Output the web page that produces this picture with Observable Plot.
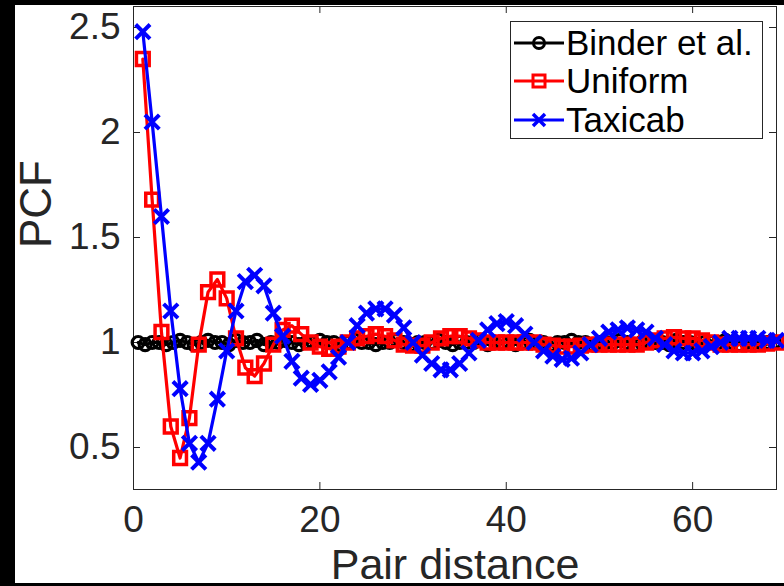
<!DOCTYPE html>
<html><head><meta charset="utf-8">
<script src="https://cdn.jsdelivr.net/npm/d3@7"></script>
<script src="https://cdn.jsdelivr.net/npm/@observablehq/plot@0.6"></script>
<style>
html,body{margin:0;padding:0;background:#000;}
#wrap{position:relative;width:784px;height:586px;background:#000;overflow:hidden;}
#fig{position:absolute;left:15px;top:5px;width:769px;height:578px;background:#fff;}
#legend{position:absolute;left:510px;top:21px;width:251px;height:116px;border:1px solid #262626;background:#fff;font-family:"Liberation Sans",Arial,sans-serif;font-size:35px;color:#000;}
.row{position:absolute;left:3px;height:38px;display:flex;align-items:center;white-space:nowrap;}
.row svg{margin-right:2px;}
</style></head><body>
<div id="wrap"><div id="fig"></div><div id="legend"></div></div>
<script>
// ---- data ----
const seriesNames = ["Binder et al.", "Uniform", "Taxicab"];
const seriesColors = ["#000000", "#ff0000", "#0000ff"];
const xTicks = [0, 20, 40, 60];
const yTicks = [0.5, 1, 1.5, 2, 2.5];

// Binder et al. samples (distance grid 0.5, 1.25, 2.0, ...)
const binderX = d3.range(0.5, 69, 0.75);
const binderY = [
1.00,0.99,1.00,1.00,0.99,1.00,1.01,1.00,0.99,1.00,
1.01,1.00,1.00,0.99,1.01,1.00,1.00,1.01,0.99,1.00,
1.00,1.01,1.00,0.99,1.00,1.00,1.01,1.00,1.00,0.99,
1.00,1.01,1.00,1.00,0.99,1.00,1.00,1.01,1.00,0.99,
1.00,1.00,1.00,1.01,1.00,0.99,1.00,1.00,1.00,1.01,
0.99,1.00,1.00,1.00,0.99,1.00,1.01,1.00,1.00,0.99,
1.00,1.00,1.01,1.00,1.00,0.99,1.00,1.00,1.00,1.01,
1.00,0.99,1.00,1.00,1.00,1.00,0.99,1.01,1.00,1.00,
0.99,1.00,1.00,1.00,1.01,1.00,0.99,1.00,1.00,1.00,
1.00,1.00];

// Uniform and Taxicab at integer distances 1..69
const distX = d3.range(1, 70);
const uniformY = [
2.35,1.68,1.05,0.60,0.45,0.64,0.99,1.24,1.30,1.21,
1.02,0.88,0.84,0.90,0.99,1.06,1.08,1.04,1.00,0.98,
0.97,0.98,1.00,1.02,1.03,1.04,1.03,1.01,0.99,0.985,
0.985,1.00,1.02,1.03,1.03,1.02,1.01,1.00,1.00,1.00,
1.00,1.00,1.00,0.99,0.985,0.98,0.98,0.985,0.99,0.99,
0.99,0.99,0.99,0.99,1.00,1.01,1.02,1.025,1.02,1.02,
1.01,1.00,0.99,0.99,0.99,0.99,0.99,0.995,1.00];
const taxicabY = [
2.48,2.05,1.60,1.15,0.78,0.52,0.43,0.52,0.73,0.96,
1.15,1.29,1.32,1.27,1.14,1.03,0.91,0.83,0.80,0.82,
0.86,0.93,1.00,1.08,1.14,1.16,1.16,1.13,1.07,1.00,
0.94,0.90,0.87,0.87,0.90,0.95,1.01,1.06,1.09,1.10,
1.08,1.04,1.00,0.96,0.935,0.92,0.925,0.95,0.99,1.02,
1.05,1.06,1.07,1.06,1.05,1.02,0.99,0.96,0.95,0.95,
0.96,0.98,1.00,1.02,1.02,1.02,1.02,1.01,1.01];

const binder = binderX.map((x, i) => ({x, y: binderY[i]})).filter(d => d.y !== undefined);
const uniform = distX.map((x, i) => ({x, y: uniformY[i]}));
const taxicab = distX.map((x, i) => ({x, y: taxicabY[i]}));

// ---- chart ----
const W = 769, H = 578, mL = 118, mR = 8, mT = 1, mB = 94;
const plotW = W - mL - mR, plotH = H - mT - mB;
const axisColor = "#262626";
const font = "Liberation Sans, Arial, Helvetica, sans-serif";

const chart = Plot.plot({
  width: W, height: H,
  marginLeft: mL, marginRight: mR, marginTop: mT, marginBottom: mB,
  x: {domain: [0, 69]},
  y: {domain: [0.3, 2.6]},
  style: {fontFamily: font, fontSize: "37px", color: axisColor, background: "white", overflow: "visible"},
  marks: [
    Plot.frame({stroke: axisColor, strokeWidth: 1}),
    // inward ticks on all four sides
    Plot.tickX(xTicks, {x: d => d, insetTop: plotH - 7, stroke: axisColor}),
    Plot.tickX(xTicks, {x: d => d, insetBottom: plotH - 7, stroke: axisColor}),
    Plot.tickY(yTicks, {y: d => d, insetRight: plotW - 7, stroke: axisColor}),
    Plot.tickY(yTicks, {y: d => d, insetLeft: plotW - 7, stroke: axisColor}),
    Plot.axisX({ticks: xTicks, tickSize: 0, tickPadding: 16, label: null, tickFormat: d => String(d), fill: axisColor}),
    Plot.axisY({ticks: yTicks, tickSize: 0, tickPadding: 13, label: null, tickFormat: d => String(d), fill: axisColor}),
    // series
    Plot.line(binder, {x: "x", y: "y", stroke: seriesColors[0], strokeWidth: 3}),
    Plot.dot(binder, {x: "x", y: "y", symbol: "circle", r: 6, stroke: seriesColors[0], fill: "none", strokeWidth: 3.2}),
    Plot.line(uniform, {x: "x", y: "y", stroke: seriesColors[1], strokeWidth: 3.2}),
    Plot.dot(uniform, {x: "x", y: "y", symbol: "square", r: 7.2, stroke: seriesColors[1], fill: "none", strokeWidth: 3.5}),
    Plot.line(taxicab, {x: "x", y: "y", stroke: seriesColors[2], strokeWidth: 3.2}),
    Plot.dot(taxicab, {x: "x", y: "y", symbol: "times", r: 6.6, stroke: seriesColors[2], strokeWidth: 4}),
    // axis titles
    Plot.text(["Pair distance"], {text: d => d, frameAnchor: "bottom", dy: 89, lineAnchor: "bottom", fontSize: 43, fill: axisColor}),
    Plot.text(["PCF"], {text: d => d, frameAnchor: "left", dx: -83, rotate: -90, lineAnchor: "bottom", fontSize: 44, fill: axisColor})
  ]
});
document.getElementById("fig").appendChild(chart);

// ---- legend ----
const legend = document.getElementById("legend");
const symbols = [
  '<circle cx="25" cy="19" r="5.5" fill="none" stroke="COLOR" stroke-width="3"/>',
  '<rect x="19" y="13" width="12" height="12" fill="none" stroke="COLOR" stroke-width="3"/>',
  '<path d="M19,13L31,25M19,25L31,13" stroke="COLOR" stroke-width="3.5"/>'
];
const tops = [2, 40, 79];
seriesNames.forEach((name, i) => {
  const row = document.createElement("div");
  row.className = "row";
  row.style.top = tops[i] + "px";
  const c = seriesColors[i];
  row.innerHTML = `<svg width="50" height="38"><line x1="0" y1="19" x2="50" y2="19" stroke="${c}" stroke-width="3"/>${symbols[i].replace(/COLOR/g, c)}</svg><span>${name}</span>`;
  legend.appendChild(row);
});
</script>
</body></html>
